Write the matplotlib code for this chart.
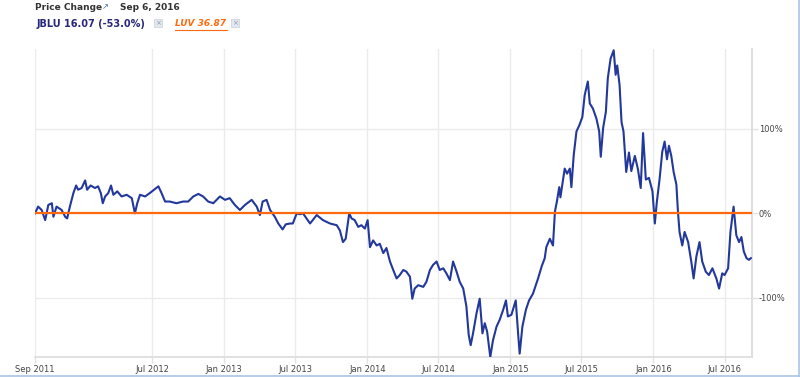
import numpy as np
import pandas as pd
import matplotlib
matplotlib.use('Agg')
import matplotlib.pyplot as plt
import matplotlib.dates as mdates
from matplotlib.lines import Line2D

# JBLU price change relative to LUV
start = '2011-09-06'
days = [0, 8, 17, 26, 34, 43, 47, 55, 68, 77, 82, 89, 98, 105, 110, 119, 128, 133, 142, 153,
	161, 168, 173, 179, 187, 194, 200, 210, 221, 234, 247, 255, 261, 268, 281, 293, 304, 315, 323, 332,
	344, 361, 378, 391, 404, 417, 429, 442, 455, 472, 485, 497, 510, 523, 536, 553, 566, 574, 581, 591,
	600, 612, 621, 632, 640, 651, 658, 668, 676, 684, 693, 702, 719, 735, 753, 770, 778, 786, 793, 802,
	808, 816, 825, 833, 842, 849, 855, 863, 872, 880, 889, 897, 906, 916, 923, 931, 940, 948, 957, 963,
	969, 978, 991, 999, 1008, 1016, 1025, 1033, 1042, 1050, 1059, 1067, 1076, 1084, 1093, 1101, 1107, 1112, 1118, 1127,
	1135, 1142, 1148, 1154, 1162, 1169, 1178, 1186, 1195, 1202, 1207, 1216, 1227, 1233, 1237, 1244, 1253, 1261, 1271, 1284,
	1293, 1301, 1305, 1314, 1322, 1327, 1332, 1338, 1341, 1348, 1352, 1358, 1365, 1369, 1375, 1382, 1389, 1397, 1403, 1411,
	1416, 1424, 1433, 1440, 1444, 1450, 1457, 1462, 1469, 1477, 1482, 1486, 1492, 1497, 1502, 1509, 1516, 1522, 1531, 1539,
	1546, 1552, 1559, 1567, 1576, 1582, 1587, 1594, 1601, 1607, 1613, 1618, 1624, 1630, 1637, 1641, 1645, 1652, 1658, 1667,
	1675, 1681, 1688, 1696, 1703, 1712, 1720, 1729, 1739, 1746, 1754, 1760, 1769, 1775, 1783, 1790, 1797, 1803, 1809, 1816,
	1822, 1827]
jblu = [0, 8, 4, -8, 10, 12, -4, 8, 4, -4, -6, 8, 24, 33, 28, 30, 39, 28, 33, 30,
	32, 24, 12, 20, 24, 33, 22, 26, 20, 22, 18, 0, 12, 22, 20, 24, 28, 32, 24, 14,
	14, 12, 14, 14, 20, 23, 20, 14, 12, 20, 16, 18, 10, 4, 10, 16, 8, -2, 14, 16,
	4, -4, -12, -19, -13, -12, -12, 0, -1, 0, -6, -12, -2, -8, -12, -14, -20, -34, -30, 0,
	-6, -8, -16, -14, -18, -8, -40, -32, -38, -36, -47, -41, -57, -69, -77, -73, -67, -69, -75, -101,
	-89, -85, -87, -81, -67, -61, -57, -67, -65, -71, -79, -57, -69, -81, -89, -110, -144, -156, -142, -118,
	-101, -142, -130, -140, -170, -150, -134, -126, -114, -103, -122, -120, -103, -142, -166, -134, -114, -103, -95, -77,
	-63, -53, -40, -30, -38, 2, 14, 31, 19, 41, 53, 47, 53, 31, 69, 97, 104, 114, 140, 156,
	130, 124, 112, 97, 67, 101, 120, 160, 183, 193, 164, 175, 152, 108, 97, 49, 72, 50, 68, 52,
	30, 95, 40, 42, 26, -12, 13, 40, 73, 85, 64, 80, 68, 49, 34, 2, -22, -38, -22, -34,
	-57, -77, -51, -34, -57, -69, -73, -65, -77, -89, -71, -73, -65, -22, 8, -26, -34, -28, -45, -53,
	-55, -53]
luv = [0, 0]

xtick_dates = ['2011-09-06', '2012-07-01', '2013-01-01', '2013-07-01', '2014-01-01',
	'2014-07-01', '2015-01-01', '2015-07-01', '2016-01-01', '2016-07-01']
xtick_labels = ['Sep 2011', 'Jul 2012', 'Jan 2013', 'Jul 2013', 'Jan 2014',
	'Jul 2014', 'Jan 2015', 'Jul 2015', 'Jan 2016', 'Jul 2016']
ytick_vals = [-100, 0, 100]
ytick_labels = ['-100%', '0%', '100%']

dates = pd.Timestamp(start) + pd.to_timedelta(days, unit='D')
luv_dates = [dates[0], dates[-1]]

fig = plt.figure(figsize=(8, 3.77), dpi=100)
ax = fig.add_axes([0.04375, 0.053, 0.89625, 0.817])

ax.plot(dates, jblu, color='#22389a', lw=1.5, solid_joinstyle='round', zorder=3)
ax.plot(luv_dates, luv, color='#ff6a0e', lw=1.6, zorder=4)

ax.set_xlim(dates[0], dates[-1] + pd.Timedelta(days=3))
ax.set_ylim(-170, 194.5)

ax.set_xticks(pd.to_datetime(xtick_dates))
ax.set_xticklabels(xtick_labels)
ax.yaxis.tick_right()
ax.set_yticks(ytick_vals)
ax.set_yticklabels(ytick_labels)
ax.tick_params(axis='x', length=4, width=1, color='#e2e2e2', labelsize=6, labelcolor='#444444', pad=2)
ax.tick_params(axis='y', length=4, width=1, color='#e2e2e2', labelsize=6, labelcolor='#444444', pad=1)

ax.grid(True, color='#ebebeb', lw=1)
ax.set_axisbelow(True)
for s in ['top', 'left']:
	ax.spines[s].set_visible(False)
ax.spines['right'].set_color('#d9d9d9')
ax.spines['bottom'].set_color('#dcdcdc')
ax.spines['right'].set_linewidth(1.2)
ax.spines['bottom'].set_linewidth(1.2)

# header
fig.text(35 / 800, 1 - 8 / 377, 'Price Change', fontsize=6.5, fontweight='bold', color='#333333', va='center')
fig.text(102 / 800, 1 - 7 / 377, '\u2197', fontsize=6, color='#4a6fb0', va='center')
fig.text(120 / 800, 1 - 8 / 377, 'Sep 6, 2016', fontsize=6.5, fontweight='bold', color='#333333', va='center')
fig.text(37 / 800, 1 - 24 / 377, 'JBLU 16.07 (-53.0%)', fontsize=7, fontweight='bold', color='#27287a', va='center')
fig.text(175 / 800, 1 - 24 / 377, 'LUV 36.87', fontsize=6.5, fontweight='bold', fontstyle='italic',
	color='#ff6a0e', va='center')
fig.add_artist(Line2D([175 / 800, 227 / 800], [1 - 30 / 377, 1 - 30 / 377], color='#ff6a0e', lw=0.8))
for xi in [158, 235]:
	fig.text(xi / 800, 1 - 23 / 377, '\u00d7', fontsize=5, color='#8899aa', va='center', ha='center',
		bbox=dict(boxstyle='square,pad=0.15', fc='#e4e8ee', ec='#c8d0da', lw=0.5))

# page border
fig.add_artist(Line2D([799 / 800, 799 / 800], [0, 1], color='#a9c4e4', lw=1.2))
fig.add_artist(Line2D([0, 1], [1.5 / 377, 1.5 / 377], color='#a9c4e4', lw=1.2))

fig.savefig('out.png', dpi=100)
